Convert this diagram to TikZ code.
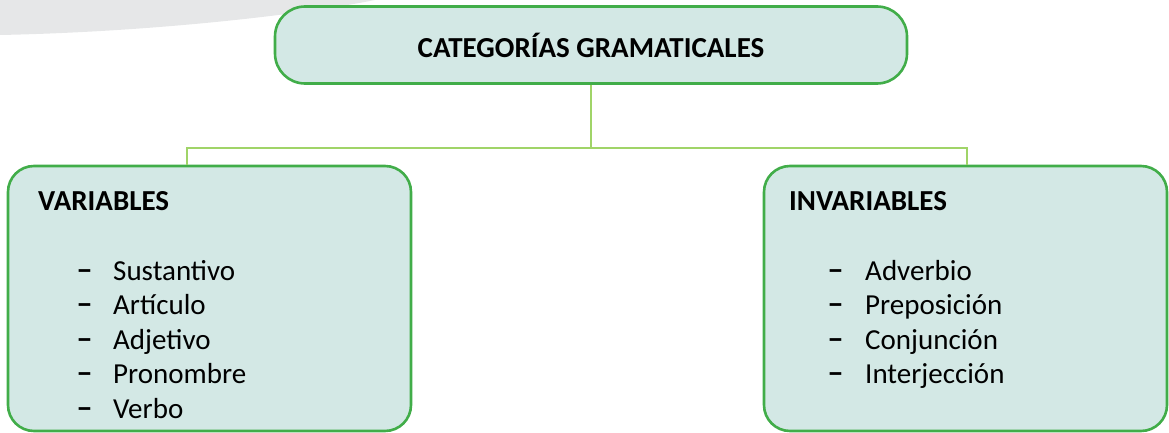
\documentclass[tikz,border=0pt]{standalone}
\usepackage{fontspec}
\setmainfont{Carlito}
\usepackage{tikz}

\definecolor{boxfill}{HTML}{D3E8E5}
\definecolor{boxline}{HTML}{41AD49}
\definecolor{linkline}{HTML}{A0D468}
\definecolor{swoosh}{HTML}{E6E7E8}

\begin{document}
\begin{tikzpicture}[x=1pt, y=-1pt,
		catbox/.style={shape=rectangle, draw=boxline, fill=boxfill, line width=2.6pt},
		link/.style={draw=linkline, line width=2pt},
		head/.style={anchor=base west, inner sep=0pt, font=\fontsize{29}{33}\selectfont\bfseries},
		item/.style={anchor=base west, inner sep=0pt, font=\fontsize{29}{33}\selectfont},
		listdash/.style={anchor=base west, inner sep=0pt, font=\fontsize{30}{33}\selectfont\bfseries}]
			\useasboundingbox (0,0) rectangle (1169,433);
			\fill[swoosh] (0,0) -- (0,35) .. controls (150,32) and (300,15) .. (375,0) -- cycle;
			
			\node[catbox, rounded corners=30pt, minimum width=632pt, minimum height=77pt] (cat) at (591,45)
				{\fontsize{29}{33}\selectfont\bfseries CATEGORÍAS GRAMATICALES};
			\node[catbox, rounded corners=26pt, minimum width=403pt, minimum height=265pt] (var) at (209.5,298.5) {};
			\node[catbox, rounded corners=26pt, minimum width=403pt, minimum height=265pt] (invar) at (965.5,298.5) {};
			
			\coordinate (hub) at (591,148);
			\path[link] (cat.south) -- (hub);
			\path[link] (hub) -| ([xshift=-22.5]var.north);
			\path[link] (hub) -| ([xshift=1.5]invar.north);
			
			\node[head] (varhead) at (38,210) {VARIABLES};
			\node[head] (invarhead) at (789,210) {INVARIABLES};
			
			\foreach \y/\word in {280/Sustantivo, 314.5/Artículo, 349/Adjetivo, 383.5/Pronombre, 418/Verbo}
				{
				\node[listdash] (vdash\y) at (77,\y) {−};
				\node[item] (vword\y) at (113,\y) {\word};
				}
			\foreach \y/\word in {280/Adverbio, 314.5/Preposición, 349/Conjunción, 383.5/Interjección}
				{
				\node[listdash] (idash\y) at (828,\y) {−};
				\node[item] (iword\y) at (865,\y) {\word};
				}
		\end{tikzpicture}
\end{document}
